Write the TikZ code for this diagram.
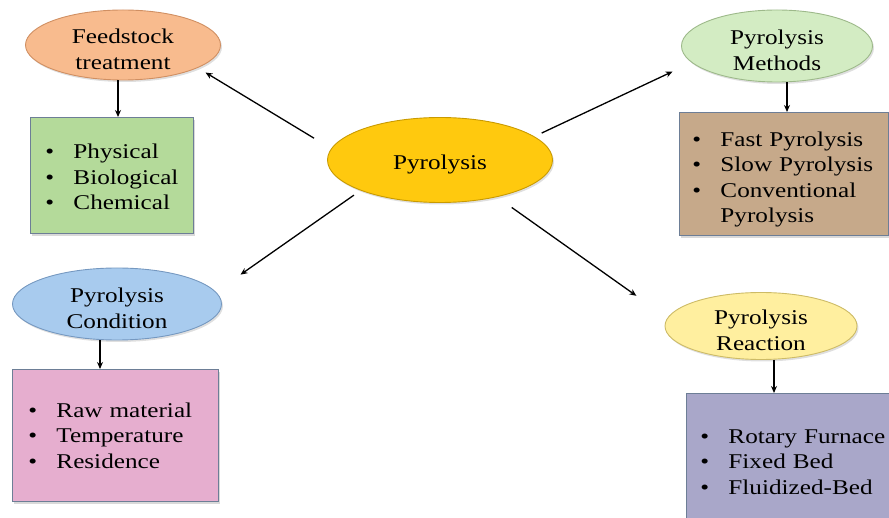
\documentclass[tikz,border=0pt]{standalone}
\usepackage{fontspec}
\setmainfont[FakeStretch=1.2]{Liberation Serif}
\usetikzlibrary{shapes.geometric,shadows,arrows.meta}

\definecolor{peach}{HTML}{F8BB8E}
\definecolor{peachline}{HTML}{D08F62}
\definecolor{gold}{HTML}{FFC90E}
\definecolor{goldline}{HTML}{C99A00}
\definecolor{mint}{HTML}{D3ECC3}
\definecolor{mintline}{HTML}{9DB98A}
\definecolor{sky}{HTML}{A8CBEE}
\definecolor{skyline}{HTML}{7598C0}
\definecolor{cream}{HTML}{FFEF9F}
\definecolor{creamline}{HTML}{CDBB66}
\definecolor{leaf}{HTML}{B4DA9A}
\definecolor{clay}{HTML}{C6A98A}
\definecolor{rose}{HTML}{E6AECF}
\definecolor{lilac}{HTML}{A9A7C9}
\definecolor{cardline}{HTML}{6D7E96}

\newcommand{\itm}[1]{\makebox[28pt][l]{\textbullet}#1}
\newcommand{\lift}{\rule{0pt}{23pt}}

\tikzset{
  oval/.style={ellipse, draw=#1, line width=0.9pt, inner xsep=0pt, inner ysep=-12pt, align=center,
    drop shadow={opacity=0.25, shadow xshift=1.5pt, shadow yshift=-2pt}},
  card/.style={rectangle, draw=cardline, line width=0.9pt, align=left,
    anchor=north west, drop shadow={opacity=0.3, shadow xshift=2pt, shadow yshift=-2.5pt}},
  link/.style={line width=1.3pt},
  down/.style={line width=1.6pt}
}

\begin{document}
\begin{tikzpicture}[->, >={Stealth[length=7pt,width=6pt]}, x=1pt, y=-1pt,
    font=\fontsize{21}{25.5}\selectfont]
          \useasboundingbox (0,0) rectangle (889,518);

          \node (1) [oval=goldline, fill=gold, minimum width=225pt, minimum height=85pt] at (440,160) {\lift Pyrolysis};
          \node (2) [oval=peachline, fill=peach, minimum width=195pt, minimum height=70pt] at (123,45) {\lift Feedstock\\treatment};
          \node (3) [card, fill=leaf, text width=133pt, inner xsep=15pt, minimum height=116pt] at (30,117)
            {\rule{0pt}{18pt}\itm{Physical}\\\itm{Biological}\\\itm{Chemical}};
          \node (4) [oval=mintline, fill=mint, minimum width=191pt, minimum height=72pt] at (777,46) {\lift Pyrolysis\\Methods};
          \node (5) [card, fill=clay, text width=183pt, inner xsep=13pt, minimum height=123pt] at (679,112)
            {\rule{0pt}{26pt}\itm{Fast Pyrolysis}\\\itm{Slow Pyrolysis}\\\itm{Conventional}\\\hspace*{28pt}Pyrolysis};
          \node (6) [oval=skyline, fill=sky, minimum width=209pt, minimum height=72pt] at (117,304) {\lift Pyrolysis\\Condition};
          \node (7) [card, fill=rose, text width=174pt, inner xsep=16pt, minimum height=132pt] at (12,369)
            {\itm{Raw material}\\\itm{Temperature}\\\itm{Residence}};
          \node (8) [oval=creamline, fill=cream, minimum width=192pt, minimum height=67pt] at (761,326) {\lift Pyrolysis\\Reaction};
          \node (9) [card, fill=lilac, text width=186pt, inner xsep=14pt, minimum height=137pt] at (686,393)
            {\itm{Rotary Furnace}\\\itm{Fixed Bed}\\\itm{Fluidized-Bed}};

          \path [link]
            (1.174) edge [shorten <=20pt, shorten >=9pt] (2.-17)
            (1.14) edge [shorten <=8pt, shorten >=21pt] (4.-169)
            (1.-159) edge [shorten <=8pt, shorten >=30pt] (6.7)
            (1.-33) edge [shorten <=18pt, shorten >=38pt] (8.175);

          \path [down]
            ([xshift=-5pt]2.south) edge ([xshift=-5pt]2.south |- 3.north)
            ([xshift=10pt]4.south) edge ([xshift=10pt]4.south |- 5.north)
            ([xshift=-17pt]6.south) edge ([xshift=-17pt]6.south |- 7.north)
            ([xshift=13pt]8.south) edge ([xshift=13pt]8.south |- 9.north);

        \end{tikzpicture}
\end{document}
